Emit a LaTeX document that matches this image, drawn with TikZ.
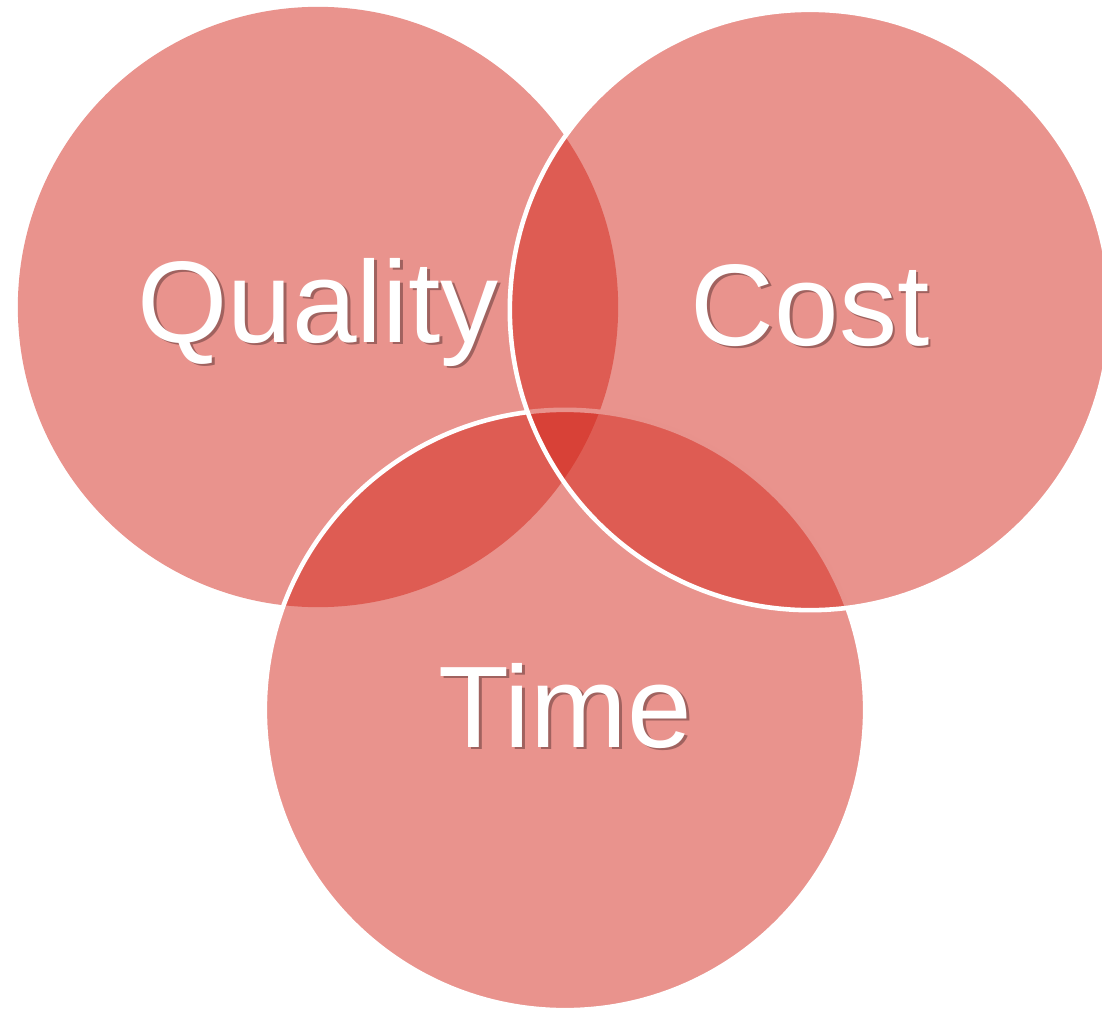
\documentclass[tikz,border=0pt]{standalone}
\usepackage{fontspec}
\setmainfont{Liberation Sans}
\usetikzlibrary{positioning}
\definecolor{vennred}{RGB}{211,39,27}
\definecolor{shadowgray}{RGB}{160,98,95}
\newcommand{\dropshadow}[1]{\makebox[0pt][l]{\kern0.8pt\raisebox{-0.8pt}{\color{shadowgray}#1}}#1}

\begin{document}
\begin{tikzpicture}[x=0.01cm,y=-0.01cm,
  venn/.style={circle,minimum size=6cm,inner sep=0pt,fill=vennred,fill opacity=0.5},
  rim/.style={draw=white,line width=1.3pt},
  lbl/.style={text=white,anchor=base,inner sep=0pt,font=\fontsize{33}{36}\selectfont}]
 \useasboundingbox (0,0) rectangle (1102,1012);
 % the three sets, drawn in this order
 \node[venn] (quality) at (318,307) {};
 \node[venn,rim] (time) at (565,710) {};
 \node[venn,rim] (cost) at (810,310) {};
 % names
 \node[lbl] (qualitytext) at ([yshift=-0.35cm]quality.center) {\dropshadow{Quality}};
 \node[lbl] (costtext) at ([yshift=-0.35cm]cost.center) {\dropshadow{Cost}};
 \node[lbl] (timetext) at ([yshift=-0.37cm]time.center) {\dropshadow{Time}};
\end{tikzpicture}
\end{document}
